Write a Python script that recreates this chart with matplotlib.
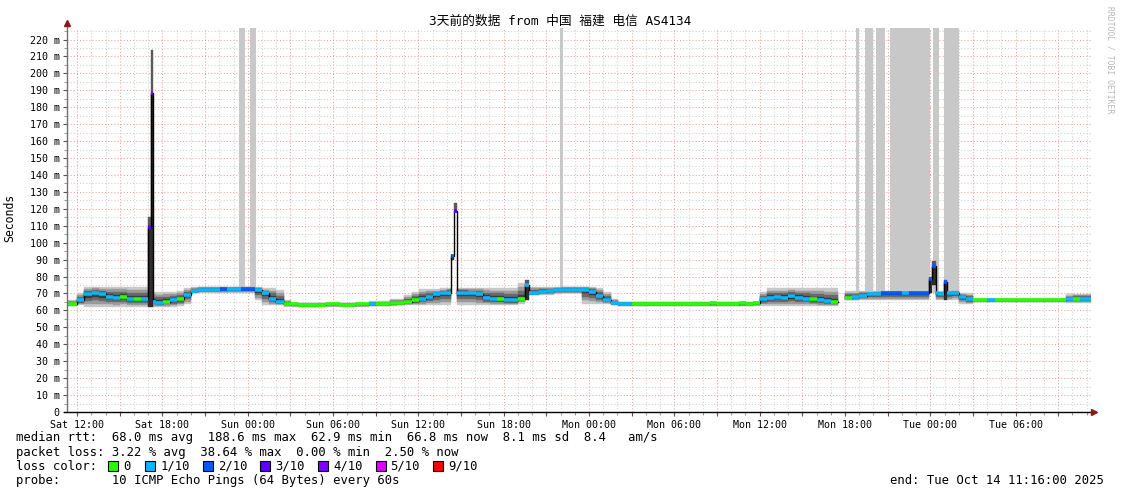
import numpy as np
import matplotlib
matplotlib.use("Agg")
import matplotlib.pyplot as plt
from matplotlib.patches import Rectangle

# ---------------- data ----------------
SPAN_H = 72.0          # 3 days, hours from Sat 11:16
STEP_H = 0.5           # one sample every 30 minutes

median_ms = [
    64.0, 64.0, 66.0, 69.5, 70.0, 69.5, 68.0, 67.5, 68.0, 66.5,
    67.0, 66.5, 65.0, 64.5, 65.0, 66.0, 66.5, 69.0, 71.5, 72.3,
    72.3, 72.3, 72.5, 72.5, 72.5, 72.5, 72.5, 72.0, 70.0, 67.0,
    65.0, 64.0, 63.5, 63.0, 63.0, 63.0, 63.3, 63.5, 63.5, 63.3,
    63.3, 63.5, 63.5, 63.8, 63.8, 63.5, 64.3, 64.3, 65.0, 66.0,
    67.0, 68.0, 69.5, 70.0, 70.5, 70.5, 70.5, 70.0, 69.5, 67.5,
    66.5, 66.5, 66.0, 66.0, 67.0, 70.0, 70.5, 71.0, 71.5, 72.0,
    72.3, 72.3, 72.3, 72.3, 71.0, 68.5, 66.0, 64.5, 64.0, 64.0,
    64.0, 63.8, 63.8, 64.0, 63.9, 63.8, 64.0, 64.0, 63.9, 63.8,
    64.0, 64.1, 64.0, 63.9, 64.0, 64.1, 64.0, 64.2, 66.5, 67.5,
    68.0, 67.5, 68.5, 67.5, 67.0, 66.5, 66.0, 65.5, 65.0, np.nan,
    67.5, 67.7, 68.5, 69.5, 69.7, 70.0, 70.0, 70.0, 70.0, 70.0,
    70.0, 70.0, 70.0, 69.5, 70.0, 70.5, 68.0, 66.5, 66.0, 66.0,
    66.0, 66.0, 66.0, 66.0, 66.0, 66.0, 66.0, 66.0, 66.0, 66.0,
    66.0, 66.5, 67.0, 67.0, 67.0]

loss_level = [
    0, 0, 1, 1, 1, 1, 1, 1, 0, 1,
    0, 1, 1, 1, 0, 1, 0, 1, 1, 1,
    1, 1, 2, 1, 1, 2, 2, 1, 1, 1,
    1, 0, 0, 0, 0, 0, 0, 0, 0, 0,
    0, 0, 0, 1, 0, 0, 0, 0, 0, 0,
    1, 1, 1, 1, 1, 1, 1, 1, 1, 1,
    1, 0, 1, 1, 0, 1, 1, 1, 1, 1,
    1, 1, 1, 1, 1, 1, 1, 1, 1, 1,
    0, 0, 0, 0, 0, 0, 0, 0, 0, 0,
    0, 0, 0, 0, 0, 0, 0, 0, 1, 1,
    1, 1, 1, 1, 1, 0, 1, 1, 0, 0,
    0, 1, 1, 1, 1, 2, 2, 2, 1, 2,
    2, 2, 1, 1, 1, 1, 1, 1, 0, 0,
    1, 0, 0, 0, 0, 0, 0, 0, 0, 0,
    0, 1, 0, 1, 1]

smoke_lo = [
    62.5, 62.5, 63.0, 62.0, 62.0, 62.0, 62.0, 62.0, 62.0, 62.0,
    62.0, 62.0, 62.0, 62.0, 62.0, 62.0, 62.5, 64.0, 70.0, 70.5,
    70.5, 70.5, 70.5, 70.5, 70.5, 70.5, 70.5, 66.0, 63.0, 63.0,
    63.0, 62.0, 62.0, 62.0, 62.0, 62.0, 62.0, 62.0, 62.0, 62.0,
    62.0, 62.0, 62.0, 62.5, 62.5, 62.5, 62.5, 63.0, 63.0, 63.0,
    63.0, 63.0, 63.0, 63.0, 63.0, 63.0, 63.0, 63.0, 63.0, 63.0,
    63.0, 63.0, 63.0, 63.0, 64.0, 69.0, 69.0, 69.0, 69.0, 69.5,
    70.0, 70.0, 70.0, 64.0, 64.0, 64.0, 64.0, 63.0, 62.5, 62.5,
    62.5, 62.5, 62.5, 62.5, 62.5, 62.5, 62.5, 62.5, 62.5, 62.5,
    62.5, 62.5, 62.5, 62.5, 62.5, 62.5, 62.5, 62.5, 62.5, 62.5,
    62.5, 62.5, 62.5, 62.5, 62.5, 62.5, 62.5, 62.5, 62.5, np.nan,
    66.0, 66.0, 66.0, 66.0, 66.0, 66.0, 66.0, 66.0, 66.0, 66.0,
    66.0, 66.0, 66.0, 66.0, 66.0, 66.0, 64.0, 64.0, 65.0, 65.0,
    65.0, 65.0, 65.0, 65.0, 65.0, 65.0, 65.0, 65.0, 65.0, 65.0,
    65.0, 64.5, 64.5, 64.5, 64.5]

smoke_hi = [
    66.0, 66.0, 70.0, 74.0, 74.0, 74.0, 74.0, 74.0, 74.0, 74.0,
    74.0, 74.0, 71.0, 71.0, 71.0, 71.0, 71.5, 73.0, 74.0, 74.0,
    74.0, 74.0, 74.0, 74.0, 74.0, 74.0, 74.0, 74.0, 73.0, 73.0,
    72.0, 66.0, 64.5, 64.5, 64.5, 64.5, 64.5, 64.5, 64.5, 64.5,
    64.5, 64.5, 64.5, 65.5, 65.5, 65.5, 66.5, 67.0, 69.0, 71.0,
    72.5, 72.5, 72.5, 73.0, 73.5, 73.5, 73.5, 73.5, 73.5, 73.5,
    73.5, 73.5, 73.0, 73.0, 76.0, 74.0, 74.0, 74.0, 74.0, 74.0,
    74.0, 74.0, 74.0, 74.0, 74.0, 73.0, 71.0, 67.0, 65.0, 65.0,
    65.0, 65.0, 65.0, 65.0, 65.0, 65.0, 65.0, 65.0, 65.0, 65.0,
    65.0, 65.0, 65.0, 65.0, 65.0, 65.0, 65.0, 65.0, 71.0, 73.0,
    73.0, 73.0, 73.0, 73.0, 73.0, 73.0, 73.0, 73.0, 73.0, np.nan,
    71.5, 71.5, 71.5, 71.5, 71.5, 71.5, 71.5, 71.5, 71.5, 71.5,
    71.5, 71.5, 71.5, 71.5, 71.5, 71.5, 70.0, 70.0, 67.0, 67.0,
    67.0, 67.0, 67.0, 67.0, 67.0, 67.0, 67.0, 67.0, 67.0, 67.0,
    67.0, 69.5, 69.5, 69.5, 69.5]

# short spikes (hours from start)
spike_t0 = [5.70, 5.93, 27.02, 27.23, 32.25, 60.63, 60.85, 61.67]
spike_t1 = [5.93, 6.09, 27.23, 27.48, 32.50, 60.85, 61.13, 61.88]
spike_med = [109.0, 188.6, 92.0, 118.8, 75.0, 78.5, 86.1, 76.9]
spike_lo = [62.0, 62.0, 90.0, 118.0, 66.0, 70.0, 75.0, 66.0]
spike_hi = [115.0, 214.0, 93.0, 123.5, 78.0, 80.0, 89.0, 78.0]
spike_loss = [3, 4, 2, 3, 1, 2, 2, 2]

# periods drawn as full-height light grey columns
gap_t0 = [12.12, 12.89, 34.69, 55.50, 56.14, 56.91, 57.88, 60.90, 61.67]
gap_t1 = [12.54, 13.31, 34.90, 55.72, 56.68, 57.55, 60.71, 61.32, 62.75]
gap_floor = [72.0, 72.0, 72.0, 70.0, 70.0, 70.0, 70.0, 70.0, 70.0]

first_label_h = 44.0 / 60.0          # Sat 12:00 is 44 min after the start
x_labels = ["Sat 12:00", "Sat 18:00", "Sun 00:00", "Sun 06:00", "Sun 12:00",
            "Sun 18:00", "Mon 00:00", "Mon 06:00", "Mon 12:00", "Mon 18:00",
            "Tue 00:00", "Tue 06:00"]
y_ticks = list(range(0, 230, 10))
y_labels = ["0"] + [f"{v} m" for v in y_ticks[1:]]

legend_levels = [0, 1, 2, 3, 4, 5, 9]
legend_labels = ["0", "1/10", "2/10", "3/10", "4/10", "5/10", "9/10"]

title = "3天前的数据 from 中国 福建 电信 AS4134"
rtt_avg, rtt_max, rtt_min, rtt_now, rtt_sd, am_s = 68.0, 188.6, 62.9, 66.8, 8.1, 8.4
loss_avg, loss_max, loss_min, loss_now = 3.22, 38.64, 0.00, 2.50
probe_text = "10 ICMP Echo Pings (64 Bytes) every 60s"
end_text = "end: Tue Oct 14 11:16:00 2025"

# ---------------- style ----------------
LOSS_COLORS = {0: "#26ff00", 1: "#00b8ff", 2: "#0059ff", 3: "#5e00ff",
               4: "#7e00ff", 5: "#dd00ff", 9: "#ff0000"}
MONO = "DejaVu Sans Mono"
W, H = 1121, 494
X0, X1, Y0, YT = 66.7, 1090.5, 412.0, 28.0
YMAX = 226.8

fig = plt.figure(figsize=(W / 100, H / 100), dpi=100)
fig.patch.set_facecolor("white")
ax = fig.add_axes([X0 / W, (H - Y0) / H, (X1 - X0) / W, (Y0 - YT) / H])
ax.set_xlim(0, SPAN_H)
ax.set_ylim(0, YMAX)
for s in ax.spines.values():
    s.set_visible(False)

# grid
dots = (0, (1, 2))
for j in range(0, 72):
    h = first_label_h + j
    if h > SPAN_H:
        break
    major = (j % 3 == 0)
    ax.axvline(h, color="#f0a0a0" if major else "#cfcfcf", lw=0.75,
               ls=dots, zorder=0)
for v in np.arange(5, YMAX, 5):
    major = (int(v) % 10 == 0)
    ax.axhline(v, color="#f0a0a0" if major else "#cfcfcf", lw=0.75,
               ls=dots, zorder=0)

# grey columns
for a, b, f in zip(gap_t0, gap_t1, gap_floor):
    ax.add_patch(Rectangle((a, f), b - a, YMAX - f, facecolor="#c8c8c8",
                           edgecolor="none", zorder=1))

# build segments
segs = []
for k, m in enumerate(median_ms):
    t = k * STEP_H
    segs.append((max(t - STEP_H / 2, 0), min(t + STEP_H / 2, SPAN_H), m,
                 smoke_lo[k], smoke_hi[k], loss_level[k], False))


def carve(seglist, a, b):
    out = []
    for s in seglist:
        t0, t1 = s[0], s[1]
        if t1 <= a or t0 >= b:
            out.append(s)
            continue
        if t0 < a:
            out.append((t0, a) + s[2:])
        if t1 > b:
            out.append((b, t1) + s[2:])
    return out


for a, b, m, lo, hi, ls in zip(spike_t0, spike_t1, spike_med, spike_lo,
                               spike_hi, spike_loss):
    segs = carve(segs, a, b)
    segs.append((a, b, m, lo, hi, ls, True))
segs.sort(key=lambda s: s[0])

t0s = np.array([s[0] for s in segs])
t1s = np.array([s[1] for s in segs])
meds = np.array([s[2] for s in segs], dtype=float)
los = np.array([s[3] for s in segs], dtype=float)
his = np.array([s[4] for s in segs], dtype=float)
lss = [s[5] for s in segs]
spk = np.array([s[6] for s in segs])
wid = t1s - t0s

# smoke layers for normal segments
normal = ~spk
for frac, col in [(1.0, "#c8c8c8"), (0.75, "#9a9a9a"),
                  (0.5, "#6a6a6a"), (0.25, "#3c3c3c")]:
    bot = meds - (meds - los) * frac
    top = meds + (his - meds) * frac
    ax.bar(t0s[normal], (top - bot)[normal], width=wid[normal],
           bottom=bot[normal], align="edge", color=col, edgecolor=col,
           linewidth=0.3, zorder=2)
# smoke for spikes
ax.bar(t0s[spk], (meds - los)[spk], width=wid[spk], bottom=los[spk],
       align="edge", color="#2e2e2e", edgecolor="#2e2e2e", lw=0.3, zorder=2)
ax.bar(t0s[spk], (his - meds)[spk], width=wid[spk], bottom=meds[spk],
       align="edge", color="#5a5a5a", edgecolor="#5a5a5a", lw=0.3, zorder=2)

# median: black step path + loss coloured pieces
xs, ys = [], []
for a, b, m in zip(t0s, t1s, meds):
    xs += [a, b]
    ys += [m, m]
ax.plot(xs, ys, color="black", lw=1.0, zorder=3, solid_joinstyle="miter")
ax.hlines(meds, t0s, t1s, colors=[LOSS_COLORS[l] for l in lss], lw=2.6,
          zorder=4, capstyle="butt")

# axes lines & arrows
ax.plot([0, 0], [0, 230.0], color="#707070", lw=1, clip_on=False, zorder=5)
ax.plot([0], [230.0], marker="^", color="#8b1a1a", ms=4.5, clip_on=False,
        zorder=6)
ax.plot([-0.2, 72.25], [0, 0], color="black", lw=1, clip_on=False, zorder=5)
ax.plot([72.25], [0], marker=">", color="#8b1a1a", ms=4.5, clip_on=False,
        zorder=6)

# ticks
maj = [first_label_h + 3 * i for i in range(24) if first_label_h + 3 * i <= SPAN_H]
lab = [x_labels[i // 2] if i % 2 == 0 else "" for i in range(len(maj))]
ax.set_xticks(maj)
ax.set_xticklabels(lab, fontfamily=MONO, fontsize=7.2)
ax.set_xticks([first_label_h + j for j in range(72) if first_label_h + j <= SPAN_H],
              minor=True)
ax.set_yticks(y_ticks)
ax.set_yticklabels(y_labels, fontfamily=MONO, fontsize=7.2)
ax.set_yticks(list(np.arange(5, YMAX, 10)), minor=True)
ax.tick_params(axis="both", which="major", length=3, width=0.8, color="#555555",
               pad=2)
ax.tick_params(axis="both", which="minor", length=2, width=0.6, color="#888888")
ax.tick_params(axis="x", which="major", pad=3)

# texts
fig.text(0.5, 1 - 21 / H, title, ha="center", va="center", fontsize=9.2,
         family=[MONO, "Noto Sans CJK SC"])
fig.text(10 / W, 1 - 218 / H, "Seconds", rotation=90, ha="center",
         va="center", fontsize=8.3, family=MONO)
fig.text(1110 / W, 1 - 60 / H, "RRDTOOL / TOBI OETIKER", rotation=270,
         ha="center", va="center", fontsize=5.8, family=MONO, color="#b8b8b8")

row1 = (f"median rtt:  {rtt_avg:.1f} ms avg  {rtt_max:.1f} ms max  "
        f"{rtt_min:.1f} ms min  {rtt_now:.1f} ms now  {rtt_sd:.1f} ms sd  "
        f"{am_s:.1f}   am/s")
row2 = (f"packet loss: {loss_avg:.2f} % avg  {loss_max:.2f} % max  "
        f"{loss_min:.2f} % min  {loss_now:.2f} % now")
row4 = f"probe:       {probe_text}"
FS = 8.85
CW = 7.4
fig.text(16 / W, 1 - 437.5 / H, row1, ha="left", va="center", fontsize=FS, family=MONO)
fig.text(16 / W, 1 - 452 / H, row2, ha="left", va="center", fontsize=FS, family=MONO)
fig.text(16 / W, 1 - 466 / H, "loss color:", ha="left", va="center", fontsize=FS, family=MONO)
fig.text(16 / W, 1 - 480.5 / H, row4, ha="left", va="center", fontsize=FS, family=MONO)
fig.text(1104 / W, 1 - 480.5 / H, end_text, ha="right", va="center", fontsize=FS, family=MONO)

bx = 108.0
for lvl, lbl in zip(legend_levels, legend_labels):
    fig.patches.append(Rectangle((bx / W, 1 - 471 / H), 10 / W, 10 / H,
                                 transform=fig.transFigure, facecolor=LOSS_COLORS[lvl],
                                 edgecolor="black", lw=0.8))
    fig.text((bx + 15) / W, 1 - 466 / H, lbl, ha="left", va="center",
             fontsize=FS, family=MONO)
    bx += 15 + len(lbl) * CW + 2 * CW - 0.6 * (len(lbl) - 1)

fig.savefig("out.png", dpi=100, facecolor="white")
